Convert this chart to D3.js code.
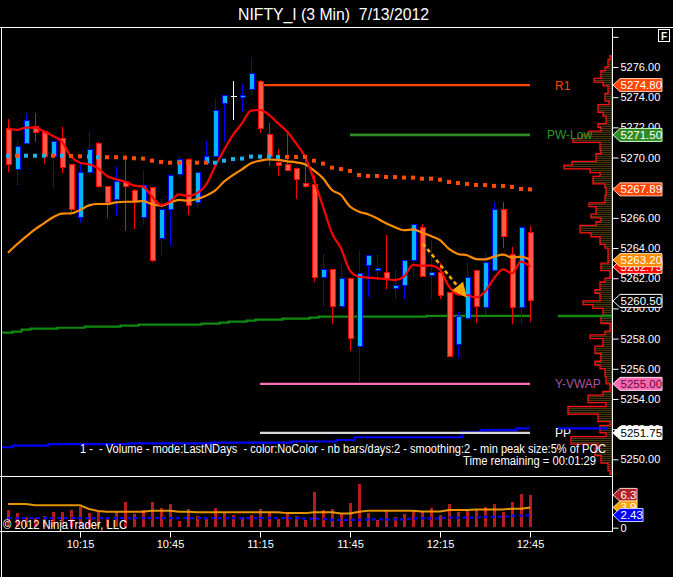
<!DOCTYPE html>
<html><head><meta charset="utf-8">
<script src="https://cdn.jsdelivr.net/npm/d3@7"></script>
<style>
html,body{margin:0;padding:0;background:#000;}
svg{display:block;font-family:"Liberation Sans",Arial,sans-serif;}
text{white-space:pre;}
</style>
</head><body><svg id="c" width="673" height="577"></svg>
<script>
// ---------------- DATA ----------------
const title = "NIFTY_I (3 Min)  7/13/2012";
const xTickBars = [8, 18, 28, 38, 48, 58];
const xTickLabels = ["10:15", "10:45", "11:15", "11:45", "12:15", "12:45"];
const priceTicks = [5250, 5252, 5254, 5256, 5258, 5260, 5262, 5264, 5266, 5268, 5270, 5272, 5274, 5276, 5278];

const open  = [5271.95,5269.2,5270.95,5272.05,5271.7,5270.05,5271.25,5269.55,5266.05,5269.0,5270.95,5268.05,5267.2,5268.4,5267.8,5266.05,5268.0,5264.65,5266.55,5268.85,5269.9,5267.05,5269.6,5270.05,5273.55,5274.05,5274.0,5274.5,5275.05,5271.55,5269.7,5269.55,5269.3,5268.3,5268.2,5262.05,5262.55,5260.1,5262.0,5257.45,5262.85,5262.5,5262.4,5261.35,5261.55,5263.2,5265.35,5262.2,5262.35,5261.05,5257.6,5259.3,5262.5,5260.05,5262.5,5266.55,5263.6,5260.05,5265.05];
const high  = [5272.55,5271.1,5272.95,5272.95,5271.8,5271.1,5272.05,5269.6,5269.6,5271.7,5271.0,5268.1,5269.35,5270.15,5267.9,5269.1,5268.05,5267.25,5268.9,5270.1,5269.95,5269.0,5271.1,5273.9,5274.1,5275.05,5274.9,5276.6,5275.15,5272.3,5270.55,5271.65,5269.3,5270.05,5268.85,5263.6,5262.6,5262.9,5262.0,5263.8,5263.55,5263.55,5264.85,5262.55,5263.2,5265.6,5265.6,5264.55,5263.0,5261.1,5259.75,5263.0,5262.5,5263.65,5267.05,5267.05,5264.05,5265.35,5265.45];
const low   = [5269.05,5268.15,5270.95,5271.05,5269.6,5268.0,5269.0,5266.4,5265.65,5268.85,5268.0,5266.0,5266.15,5265.15,5265.25,5265.55,5263.1,5263.45,5264.15,5268.7,5266.2,5266.65,5269.6,5270.0,5271.05,5272.5,5273.05,5274.15,5271.6,5269.45,5268.8,5269.1,5267.25,5268.0,5261.75,5260.15,5259.0,5260.1,5257.15,5255.2,5260.75,5262.0,5261.3,5260.6,5260.6,5262.1,5262.1,5260.65,5260.6,5256.8,5256.7,5259.2,5259.05,5259.55,5262.5,5264.0,5259.0,5259.0,5259.1];
const close = [5269.55,5270.7,5272.45,5271.65,5270.1,5271.05,5269.35,5266.55,5269.0,5270.5,5268.05,5267.0,5268.4,5268.05,5267.1,5268.15,5263.15,5266.55,5268.8,5269.9,5266.8,5269.0,5270.05,5273.1,5274.1,5274.05,5274.1,5275.6,5271.95,5270.05,5269.45,5269.15,5268.55,5268.05,5262.05,5262.55,5260.1,5262.0,5258.0,5262.3,5263.5,5262.65,5261.95,5261.5,5263.2,5265.55,5262.1,5262.35,5260.85,5256.8,5259.45,5262.05,5260.1,5263.05,5266.55,5264.75,5260.05,5265.35,5260.5];

const fastMA = [5271.94,5271.83,5271.98,5271.98,5271.72,5271.43,5271.05,5270.06,5269.66,5269.55,5269.29,5268.78,5268.56,5268.4,5268.14,5268.07,5267.41,5266.86,5267.08,5267.56,5267.45,5267.63,5268.18,5269.4,5270.5,5271.5,5272.27,5273.11,5273.15,5272.82,5272.27,5271.72,5270.94,5270.06,5268.51,5266.75,5264.98,5263.98,5262.5,5262.1,5262.04,5261.99,5261.95,5261.88,5262.1,5262.88,5262.83,5262.83,5262.55,5261.44,5260.93,5260.89,5260.73,5261.11,5261.99,5262.59,5262.33,5263.1,5262.75];
const slowMA = [5263.69,5264.25,5264.76,5265.24,5265.64,5266.04,5266.28,5266.3,5266.52,5266.83,5266.92,5266.92,5267.03,5267.07,5267.07,5267.12,5266.9,5266.81,5267.01,5267.19,5267.14,5267.25,5267.47,5267.8,5268.4,5268.84,5269.22,5269.62,5269.79,5269.88,5269.84,5269.75,5269.68,5269.55,5269.13,5268.62,5267.85,5267.52,5266.75,5266.41,5266.24,5265.97,5265.64,5265.38,5265.18,5265.24,5265.02,5264.8,5264.53,5263.94,5263.61,5263.52,5263.27,5263.25,5263.43,5263.56,5263.38,5263.43,5263.2];
const dotMA = [5270.12,5270.12,5270.12,5270.12,5270.12,5270.12,5270.12,5270.10,5270.08,5270.06,5270.02,5270.02,5270.02,5269.99,5269.95,5269.93,5269.79,5269.71,5269.66,5269.66,5269.66,5269.66,5269.66,5269.66,5269.79,5269.90,5269.93,5270.06,5270.06,5270.06,5270.04,5270.04,5270.04,5270.04,5269.79,5269.6,5269.33,5269.24,5269.11,5268.84,5268.78,5268.78,5268.71,5268.71,5268.67,5268.67,5268.6,5268.6,5268.53,5268.38,5268.31,5268.25,5268.18,5268.18,5268.12,5268.12,5268.05,5267.92,5267.89];
const dotTrend = "udu uudud duu dddddddddddd uuuuuuuu ddddddddddddddddddddddddddddd".replace(/ /g, "").split("");
const greenLine = [5258.39,5258.46,5258.59,5258.66,5258.66,5258.66,5258.72,5258.72,5258.72,5258.79,5258.79,5258.79,5258.79,5258.86,5258.86,5258.92,5258.92,5258.92,5258.92,5258.92,5258.92,5258.92,5258.99,5258.99,5259.06,5259.12,5259.12,5259.19,5259.26,5259.26,5259.26,5259.32,5259.32,5259.32,5259.39,5259.45,5259.45,5259.45,5259.45,5259.45,5259.45,5259.45,5259.45,5259.45,5259.45,5259.45,5259.45,5259.5,5259.5,5259.5,5259.5,5259.5,5259.5,5259.5,5259.5,5259.5,5259.5,5259.5,5259.5];
const blueLine = [5250.8,5250.9,5250.9,5250.9,5250.9,5251.0,5251.0,5251.0,5251.0,5251.0,5251.0,5251.0,5251.0,5251.0,5251.05,5251.05,5251.05,5251.05,5251.05,5251.05,5251.05,5251.05,5251.05,5251.1,5251.1,5251.1,5251.1,5251.1,5251.1,5251.1,5251.1,5251.1,5251.18,5251.18,5251.18,5251.18,5251.18,5251.28,5251.28,5251.46,5251.46,5251.46,5251.46,5251.46,5251.46,5251.46,5251.46,5251.46,5251.46,5251.46,5251.46,5251.79,5251.79,5251.94,5251.94,5251.94,5251.94,5252.05,5252.05];

const volume = [3.4,2.9,2.0,1.95,2.3,2.95,2.95,3.4,3.9,2.9,2.95,2.0,3.1,4.95,2.7,3.4,4.95,3.85,4.6,1.35,3.6,2.3,2.15,3.8,3.1,2.5,2.0,2.5,3.6,2.95,1.7,2.8,2.3,1.5,6.85,3.4,3.6,2.6,4.75,8.4,2.9,1.5,3.3,2.0,2.6,3.3,3.3,3.8,2.45,4.55,3.1,3.4,3.45,4.0,4.55,3.05,4.95,6.4,6.3];
const volFast = [4.55,4.55,4.55,4.3,4.3,4.3,4.3,4.3,4.3,3.6,3.2,3.05,3.05,3.05,3.05,3.05,3.25,3.25,3.25,3.05,3.05,2.95,2.95,2.95,2.95,2.95,2.95,2.95,2.95,2.95,2.95,2.8,2.8,2.8,2.95,2.95,2.95,2.75,2.75,3.05,3.25,3.25,3.25,3.25,3.25,3.25,3.1,3.1,3.1,3.4,3.4,3.4,3.5,3.5,3.5,3.5,3.65,3.65,3.9];
const volSlow = [1.85,1.85,1.85,1.85,1.85,1.85,1.85,1.85,1.85,1.85,1.85,1.85,1.85,1.85,1.85,1.85,1.85,1.85,1.85,1.85,1.85,1.85,1.85,1.85,1.85,1.85,1.85,1.85,1.85,1.85,1.85,1.85,1.85,1.75,1.75,1.75,1.5,1.5,1.5,1.5,1.6,1.6,1.6,1.6,1.6,1.8,1.8,1.8,1.8,1.95,1.95,1.95,1.95,2.1,2.1,2.1,2.3,2.3,2.43];

const profileLow = 5249.0, profileStep = 0.25;
const profileVolume = [2,4,4,11,11,17,17,14,41,41,6,12,12,2,14,14,44,44,6,24,24,9,2,2,6,6,7,7,12,17,11,11,17,17,9,9,22,7,2,2,11,11,9,9,19,29,12,12,17,12,12,7,2,2,11,11,4,4,4,4,7,12,12,21,32,32,16,11,21,16,16,23,7,7,6,6,7,19,19,12,22,48,40,16,16,11,12,12,39,30,23,11,14,6,6,9,14,14,3,7,7,4,4,9,18,11,11,7,4,4,2];

const levelNames  = ["R1", "PW-Low", "Y-VWAP", "PP"];
const levelValues = [5274.80, 5271.50, 5255.00, 5251.75];
const levelStartBar = [28, 38, 28, 28];

const arrowFrom = [46.1, 5264.3];
const arrowTo = [51.0, 5260.7];

const volText = "1 -  - Volume - mode:LastNDays  - color:NoColor - nb bars/days:2 - smoothing:2 - min peak size:5% of POC";
const timeText = "Time remaining = 00:01:29";
const copyText = "\u00a9 2012 NinjaTrader, LLC";

// ---------------- DRAW ----------------
const svg = d3.select("#c");
const W = 673, H = 577;
const AX = 612;
const n = open.length;
const x = d3.scaleLinear().domain([0, 58]).range([8, 530]);
const y = d3.scaleLinear().domain([5250, 5276]).range([459.3, 67]);
const yv = d3.scaleLinear().domain([0, 6.3]).range([527.7, 494.9]);
const xp = d3.scaleLinear().domain([0, 50]).range([AX, AX - 50]);

svg.append("rect").attr("width", W).attr("height", H).attr("fill", "#000");
const defs = svg.append("defs");
const pat = defs.append("pattern").attr("id", "hatch").attr("patternUnits", "userSpaceOnUse").attr("width", 4).attr("height", 2);
pat.append("rect").attr("width", 4).attr("height", 2).attr("fill", "#0e0a02");
pat.append("rect").attr("width", 4).attr("height", 1).attr("fill", "#463810");
defs.append("clipPath").attr("id", "pclip").append("rect").attr("x", 1).attr("y", 28).attr("width", AX - 1).attr("height", 448);

// title
svg.append("text").attr("x", 333.5).attr("y", 20).attr("text-anchor", "middle")
  .attr("fill", "#fff").attr("font-size", 17).attr("textLength", 191).attr("lengthAdjust", "spacingAndGlyphs").text(title);

const plot = svg.append("g").attr("clip-path", "url(#pclip)");

// step lines (green, blue)
function stepPath(vals, sc) {
  let d = "";
  vals.forEach((v, i) => {
    const x0 = i === 0 ? 1 : x(i) - 4.5, x1 = i === n - 1 ? x(i) : x(i) + 4.5;
    d += (i === 0 ? "M" : "L") + x0 + "," + sc(v) + "L" + x1 + "," + sc(v);
  });
  return d;
}
plot.append("path").attr("d", stepPath(greenLine, y)).attr("fill", "none").attr("stroke", "#108a10").attr("stroke-width", 2.2);
plot.append("path").attr("d", stepPath(blueLine, y)).attr("fill", "none").attr("stroke", "#0000ff").attr("stroke-width", 2.2);

// level lines
const levelColors = ["#ff4500", "#2e8b22", "#ff6eb4", "#d8d8d8"];
const levelTextColors = ["#ff4500", "#2a9a2a", "#b0509a", "#ffffff"];
const levelTextX = [555, 547, 555, 555];
levelValues.forEach((v, i) => {
  plot.append("line").attr("x1", x(levelStartBar[i])).attr("x2", x(58)).attr("y1", y(v)).attr("y2", y(v))
    .attr("stroke", levelColors[i]).attr("stroke-width", i === 1 ? 2.6 : 2.2);
});

// volume profile
(function () {
  const yb = k => y(profileLow + k * profileStep);
  let d = "M" + AX + "," + yb(0);
  profileVolume.forEach((v, k) => {
    d += "L" + xp(v) + "," + yb(k) + "L" + xp(v) + "," + yb(k + 1);
  });
  d += "L" + AX + "," + yb(profileVolume.length) + "Z";
  svg.append("path").attr("d", d).attr("fill", "url(#hatch)").attr("stroke", "#ff1010").attr("stroke-width", 1.3);
})();

// level labels (on top of profile)
levelValues.forEach((v, i) => {
  svg.append("text").attr("x", levelTextX[i]).attr("y", y(v) + 4.5).attr("fill", levelTextColors[i])
    .attr("font-size", 12).text(levelNames[i]);
});

// right-side current markers of green & blue lines
svg.append("line").attr("x1", 558).attr("x2", AX).attr("y1", y(greenLine[n - 1])).attr("y2", y(greenLine[n - 1])).attr("stroke", "#108a10").attr("stroke-width", 2.4);
svg.append("line").attr("x1", 558).attr("x2", 607).attr("y1", y(blueLine[n - 1])).attr("y2", y(blueLine[n - 1])).attr("stroke", "#0000ff").attr("stroke-width", 2.4);

// candles
const cg = plot.append("g").attr("shape-rendering", "crispEdges");
for (let i = 0; i < n; i++) {
  const o = open[i], c = close[i];
  const up = c > o, dn = c < o;
  const stroke = up ? "#0000ff" : dn ? "#ff0000" : "#ffffff";
  const fill = up ? "#00b4ff" : dn ? "#ff5a45" : "#ffffff";
  const cx = Math.round(x(i)) + 0.5;
  cg.append("line").attr("x1", cx).attr("x2", cx).attr("y1", y(high[i])).attr("y2", y(low[i])).attr("stroke", stroke).attr("stroke-width", 1);
  if (up || dn) {
    const top = y(Math.max(o, c)), bot = y(Math.min(o, c));
    cg.append("rect").attr("x", cx - 2.5).attr("y", top).attr("width", 5).attr("height", Math.max(1, bot - top))
      .attr("fill", fill).attr("stroke", stroke).attr("stroke-width", 1);
  } else {
    cg.append("line").attr("x1", cx - 3).attr("x2", cx + 3).attr("y1", y(o)).attr("y2", y(o)).attr("stroke", stroke).attr("stroke-width", 1);
  }
}

// moving averages
const lineGen = d3.line().x((d, i) => x(i)).y(d => y(d)).curve(d3.curveMonotoneX);
plot.append("path").attr("d", lineGen(slowMA)).attr("fill", "none").attr("stroke", "#ff8c00").attr("stroke-width", 2.2);
plot.append("path").attr("d", lineGen(fastMA)).attr("fill", "none").attr("stroke", "#ff0000").attr("stroke-width", 2.2);

// dotted MA
plot.selectAll("rect.dot").data(dotMA).enter().append("rect").attr("class", "dot")
  .attr("x", (d, i) => x(i) - 2).attr("y", d => y(d) - 2).attr("width", 4).attr("height", 4)
  .attr("fill", (d, i) => dotTrend[i] === "u" ? "#1ab4ee" : "#ff4a0a");

// arrow
(function () {
  const x0 = x(arrowFrom[0]), y0 = y(arrowFrom[1]), x1 = x(arrowTo[0]), y1 = y(arrowTo[1]);
  const dx = x1 - x0, dy = y1 - y0, L = Math.hypot(dx, dy), ux = dx / L, uy = dy / L;
  const hl = 15, hw = 7;
  const bx = x1 - ux * hl, by = y1 - uy * hl;
  plot.append("line").attr("x1", x0).attr("y1", y0).attr("x2", bx).attr("y2", by)
    .attr("stroke", "#ffa500").attr("stroke-width", 2.6).attr("stroke-dasharray", "4,3");
  plot.append("path").attr("d", `M${x1},${y1}L${bx - uy * hw},${by + ux * hw}L${bx + uy * hw},${by - ux * hw}Z`).attr("fill", "#ffa500");
})();

// texts in price panel
svg.append("text").attr("x", 80).attr("y", 452.5).attr("fill", "#fff").attr("font-size", 12)
  .attr("textLength", 526).attr("lengthAdjust", "spacingAndGlyphs").text(volText);
svg.append("text").attr("x", 463).attr("y", 465).attr("fill", "#fff").attr("font-size", 12)
  .attr("textLength", 133).attr("lengthAdjust", "spacingAndGlyphs").text(timeText);

// volume panel
const vg = svg.append("g");
vg.selectAll("rect.vb").data(volume).enter().append("rect").attr("class", "vb")
  .attr("x", (d, i) => Math.round(x(i)) - 1).attr("y", d => yv(d)).attr("width", 3).attr("height", d => yv(0) - 0.8 - yv(d))
  .attr("fill", "#b71c1c").attr("shape-rendering", "crispEdges");
const vline = d3.line().x((d, i) => x(i)).y(d => yv(d));
vg.append("path").attr("d", vline(volFast)).attr("fill", "none").attr("stroke", "#ffa500").attr("stroke-width", 2).attr("stroke-opacity", 0.9);
vg.append("path").attr("d", vline(volSlow)).attr("fill", "none").attr("stroke", "#0000ff").attr("stroke-width", 2.2).attr("stroke-dasharray", "4,3");
svg.append("text").attr("x", 3).attr("y", 528.5).attr("fill", "#fff").attr("font-size", 12)
  .attr("textLength", 124).attr("lengthAdjust", "spacingAndGlyphs").text(copyText);

// frame lines
const frame = svg.append("g").attr("stroke", "#fff").attr("stroke-width", 1).attr("shape-rendering", "crispEdges");
frame.append("line").attr("x1", 0).attr("x2", W).attr("y1", 27.5).attr("y2", 27.5);
frame.append("line").attr("x1", 1.5).attr("x2", 1.5).attr("y1", 27).attr("y2", H);
frame.append("line").attr("x1", 0).attr("x2", AX).attr("y1", 476.5).attr("y2", 476.5);
frame.append("line").attr("x1", 0).attr("x2", AX).attr("y1", 531.5).attr("y2", 531.5);
frame.append("line").attr("x1", AX + 0.5).attr("x2", AX + 0.5).attr("y1", 27).attr("y2", 532);

// price axis
const yAxis = d3.axisRight(y).tickValues(priceTicks).tickSize(6).tickPadding(2)
  .tickFormat(d => d === 5278 ? "" : d3.format(".2f")(d));
const ya = svg.append("g").attr("transform", `translate(${AX + 0.5},0)`).call(yAxis);
ya.select(".domain").remove();
ya.selectAll("line").attr("stroke", "#fff");
ya.selectAll("text").attr("fill", "#fff").attr("font-size", 11).attr("font-family", "Liberation Sans, Arial, sans-serif");

// volume axis
const vAxis = d3.axisRight(yv).tickValues([0]).tickSize(6).tickPadding(2).tickFormat(d3.format("d"));
const va = svg.append("g").attr("transform", `translate(${AX + 0.5},0)`).call(vAxis);
va.select(".domain").remove();
va.selectAll("line").attr("stroke", "#fff");
va.selectAll("text").attr("fill", "#fff").attr("font-size", 11).attr("font-family", "Liberation Sans, Arial, sans-serif");

// time axis
const xAxis = d3.axisBottom(x).tickValues(xTickBars).tickSize(6).tickPadding(3).tickFormat((d, i) => xTickLabels[i]);
const xa = svg.append("g").attr("transform", "translate(0,531.5)").call(xAxis);
xa.select(".domain").remove();
xa.selectAll("line").attr("stroke", "#fff");
xa.selectAll("text").attr("fill", "#fff").attr("font-size", 11).attr("font-family", "Liberation Sans, Arial, sans-serif");

// value flags
function flag(val, sc, label, bg, fg, w, border) {
  const yc = sc(val), h = 13, x0 = AX + 1, x1 = x0 + w;
  svg.append("path").attr("d", `M${x0},${yc}L${x0 + 7},${yc - h / 2}L${x1},${yc - h / 2}L${x1},${yc + h / 2}L${x0 + 7},${yc + h / 2}Z`)
    .attr("fill", bg).attr("stroke", border).attr("stroke-width", 1);
  svg.append("text").attr("x", x0 + 7.5).attr("y", yc + 4).attr("fill", fg).attr("font-size", 11.5).text(label);
}
const f2 = d3.format(".2f");
flag(levelValues[0], y, f2(levelValues[0]), "#ff4500", "#fff", 49, "#ffd0c0");
flag(levelValues[1], y, f2(levelValues[1]), "#2e8b22", "#fff", 49, "#d0ffd0");
flag(dotMA[n - 1], y, f2(dotMA[n - 1]), "#ff4500", "#fff", 49, "#ffd0c0");
flag(fastMA[n - 1], y, f2(fastMA[n - 1]), "#ff0000", "#fff", 49, "#ffd0d0");
flag(slowMA[n - 1], y, f2(slowMA[n - 1]), "#ff8c00", "#fff", 49, "#ffe0b0");
flag(close[n - 1], y, f2(close[n - 1]), "#000", "#fff", 49, "#fff");
flag(levelValues[2], y, f2(levelValues[2]), "#ff69b4", "#5a1040", 49, "#ffe0f0");
flag(levelValues[3], y, f2(levelValues[3]), "#ffffff", "#000", 49, "#fff");
flag(volume[n - 1], yv, d3.format(".1f")(volume[n - 1]), "#b22222", "#fff", 24, "#ffd0d0");
flag(volFast[n - 1], yv, d3.format(".1f")(volFast[n - 1]), "#ffa500", "#fff", 24, "#ffe0b0");
flag(volSlow[n - 1], yv, f2(volSlow[n - 1]), "#0000ff", "#fff", 30, "#d0d0ff");

// F box
svg.append("rect").attr("x", 658.5).attr("y", 29.5).attr("width", 11).attr("height", 12).attr("fill", "#000").attr("stroke", "#fff");
svg.append("text").attr("x", 664).attr("y", 39.5).attr("text-anchor", "middle").attr("fill", "#fff").attr("font-size", 10).attr("font-weight", "bold").text("F");
</script>
</body></html>
